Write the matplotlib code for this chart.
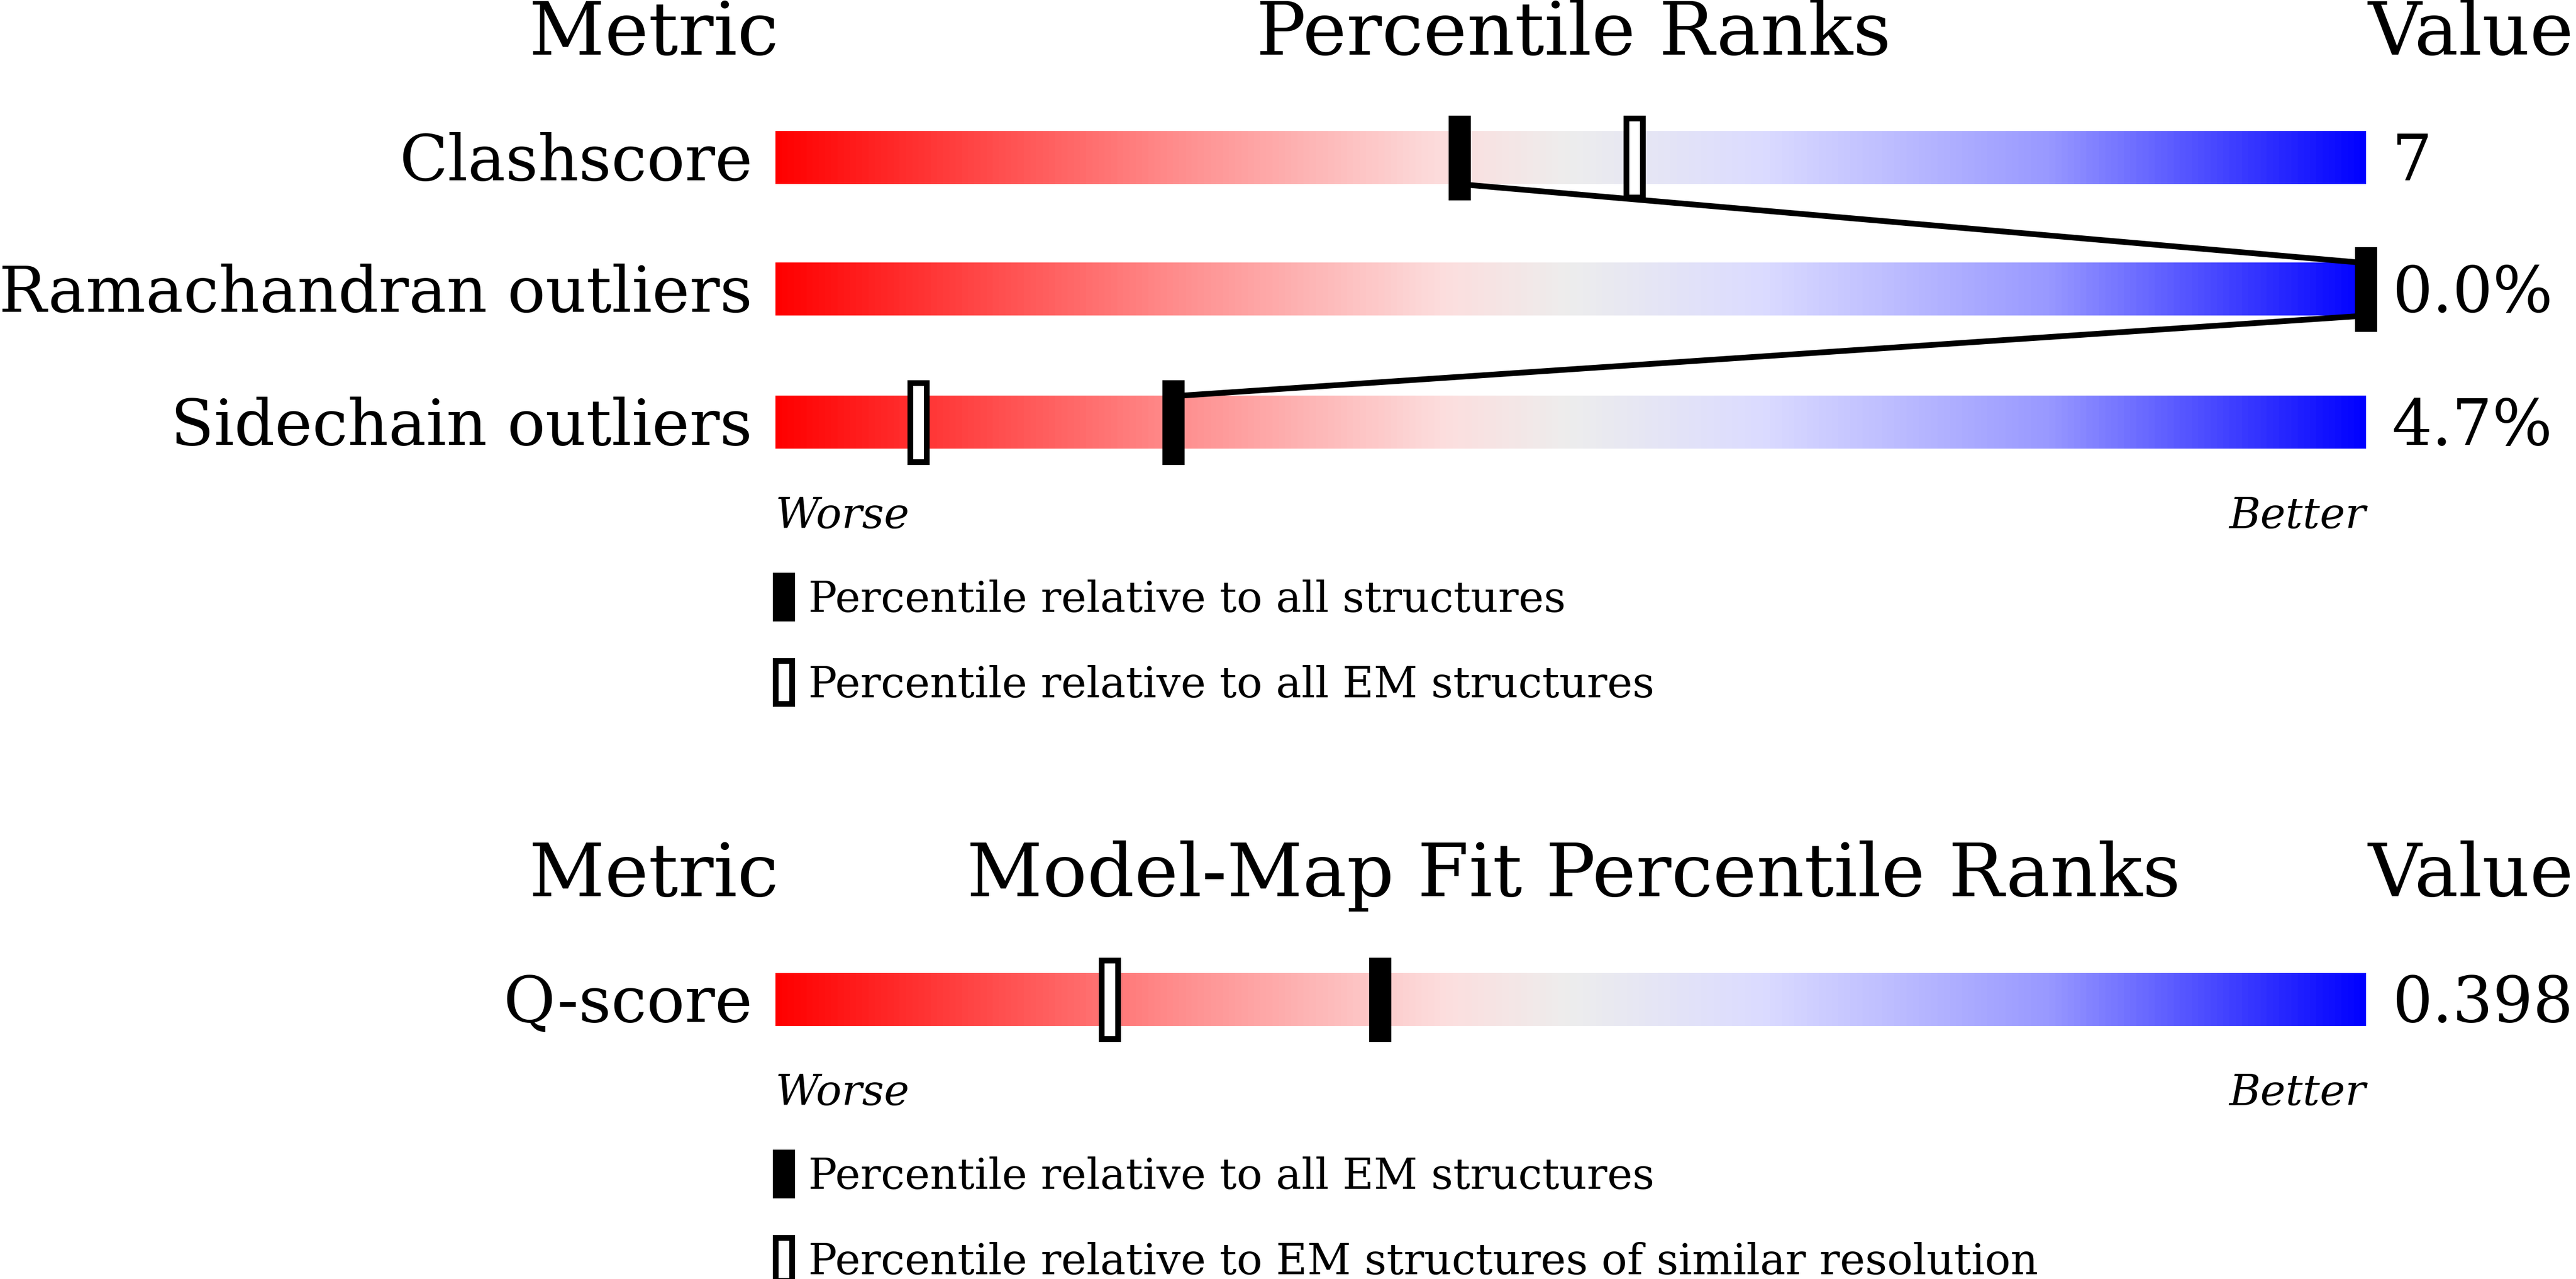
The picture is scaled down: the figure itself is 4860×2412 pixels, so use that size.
import matplotlib
matplotlib.use("Agg")
import matplotlib.pyplot as plt
import numpy as np
from matplotlib.colors import LinearSegmentedColormap
from matplotlib.patches import Rectangle

metrics = ["Clashscore", "Ramachandran outliers", "Sidechain outliers"]
values = ["7", "0.0%", "4.7%"]
pct_all = [43, 100, 25]
pct_em = [54, 100, 9]
fit_metrics = ["Q-score"]
fit_values = ["0.398"]
fit_pct_em = [38]
fit_pct_res = [21]

W, H = 1568, 778
fig = plt.figure(figsize=(48.6, 24.12), dpi=100)
ax = fig.add_axes([0, 0, 1, 1])
ax.set_xlim(0, W); ax.set_ylim(H, 0); ax.axis("off")
S = 4860 / W
serif = "DejaVu Serif"
cmap = LinearSegmentedColormap.from_list("q", [
    (0, (1, 0, 0)), (0.25, (1, 0.55, 0.55)), (0.42, (0.99, 0.87, 0.87)),
    (0.5, (0.93, 0.93, 0.93)), (0.62, (0.86, 0.86, 1.0)), (0.8, (0.6, 0.6, 1.0)), (1, (0, 0, 1))])
grad = np.linspace(0, 1, 512)[None, :]
x0, x1 = 472, 1440
bh = 32
def px(p): return x0 + (x1 - x0) * p / 100
fs_t, fs_l, fs_s = 45 * S * 0.72, 38.5 * S * 0.72, 26 * S * 0.72

def bar(yc, label, val):
    ax.imshow(grad, cmap=cmap, extent=(x0, x1, yc + bh / 2, yc - bh / 2), aspect="auto", zorder=1)
    ax.text(458, yc + 3, label, ha="right", va="center", fontsize=fs_l, family=serif)
    ax.text(1456, yc + 3, val, ha="left", va="center", fontsize=fs_l, family=serif)

def marker(x, yc, filled):
    mw, mh = 10, 48
    x = min(x, x1 + 2)
    ax.add_patch(Rectangle((x - mw / 2, yc - mh / 2), mw, mh, facecolor="black" if filled else "white",
                           edgecolor="black", lw=2.5 * S, zorder=4))

def legend(y, texts):
    for i, t in enumerate(texts):
        yy = y + i * 52
        ax.add_patch(Rectangle((472, yy - 13), 10, 26, facecolor="black" if i == 0 else "white",
                               edgecolor="black", lw=2.5 * S, zorder=4))
        ax.text(492, yy + 2, t, ha="left", va="center", fontsize=fs_s, family=serif)

# panel 1
ax.text(398, 21, "Metric", ha="center", va="center", fontsize=fs_t, family=serif)
ax.text(958, 21, "Percentile Ranks", ha="center", va="center", fontsize=fs_t, family=serif)
ax.text(1504, 21, "Value", ha="center", va="center", fontsize=fs_t, family=serif)
ys = [96, 176, 257]
for y, m, v in zip(ys, metrics, values):
    bar(y, m, v)
xs = [px(p) for p in pct_all]
for i in range(len(ys) - 1):
    ax.plot([xs[i], xs[i + 1]], [ys[i] + 16, ys[i + 1] - 16], color="black", lw=2.5 * S, zorder=3)
for y, pa, pe in zip(ys, pct_all, pct_em):
    if pe != pa:
        marker(px(pe), y, False)
    marker(px(pa), y, True)
ax.text(472, 314, "Worse", ha="left", va="center", fontsize=fs_s, family=serif, style="italic")
ax.text(1440, 314, "Better", ha="right", va="center", fontsize=fs_s, family=serif, style="italic")
legend(363, ["Percentile relative to all structures", "Percentile relative to all EM structures"])

# panel 2
ax.text(398, 533, "Metric", ha="center", va="center", fontsize=fs_t, family=serif)
ax.text(958, 533, "Model-Map Fit Percentile Ranks", ha="center", va="center", fontsize=fs_t, family=serif)
ax.text(1504, 533, "Value", ha="center", va="center", fontsize=fs_t, family=serif)
y = 608
bar(y, fit_metrics[0], fit_values[0])
marker(px(fit_pct_res[0]), y, False)
marker(px(fit_pct_em[0]), y, True)
ax.text(472, 665, "Worse", ha="left", va="center", fontsize=fs_s, family=serif, style="italic")
ax.text(1440, 665, "Better", ha="right", va="center", fontsize=fs_s, family=serif, style="italic")
legend(714, ["Percentile relative to all EM structures", "Percentile relative to EM structures of similar resolution"])

fig.savefig("out.png", dpi=100)
